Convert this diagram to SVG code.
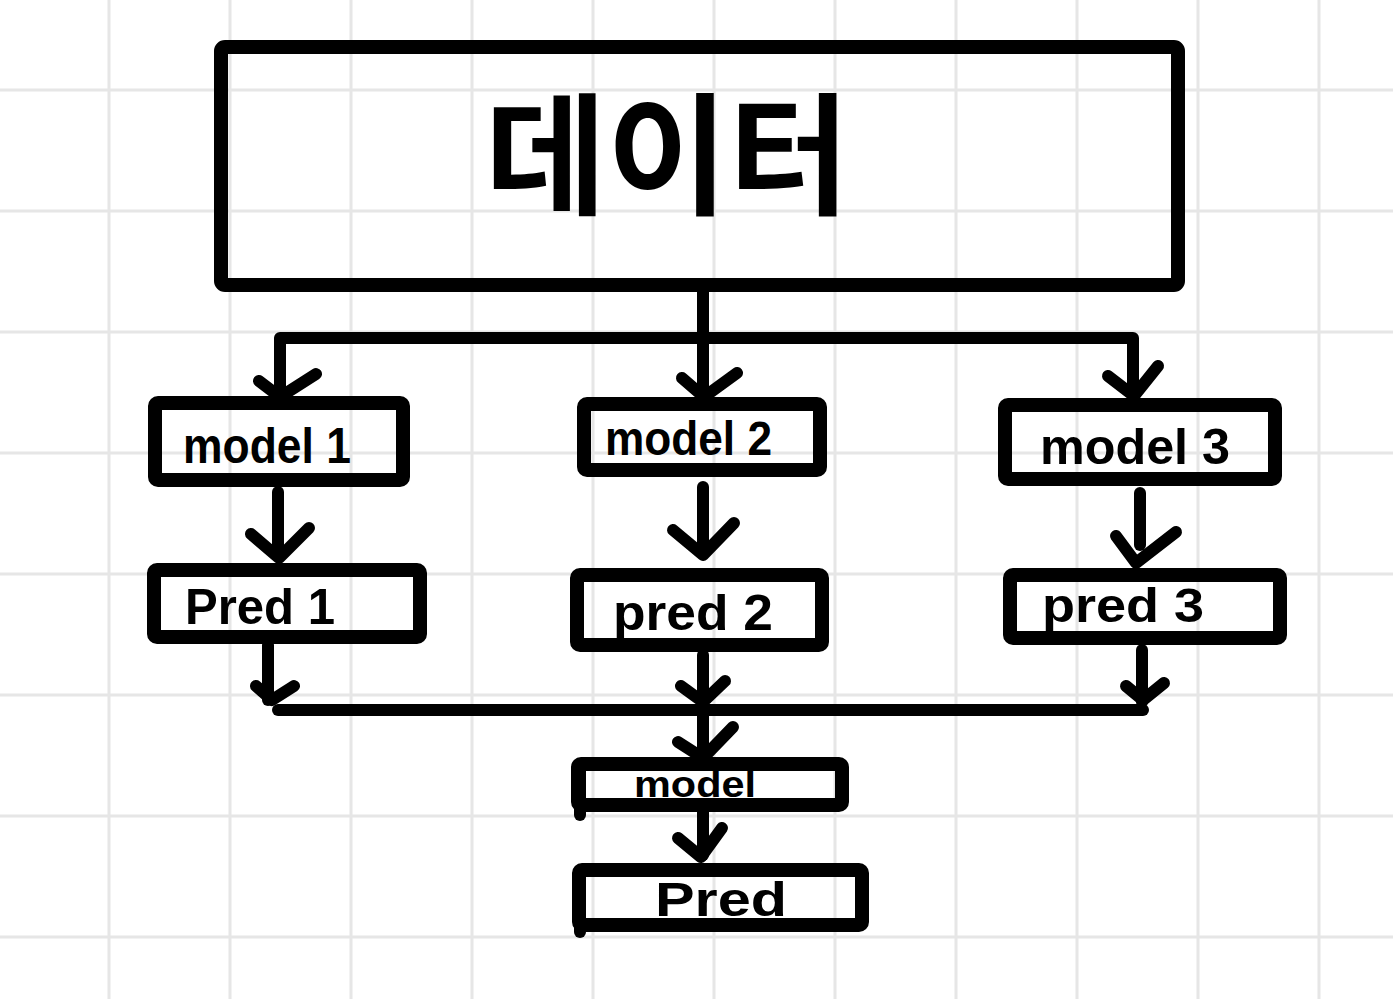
<svg xmlns="http://www.w3.org/2000/svg" width="1393" height="999" viewBox="0 0 1393 999">
<style>
.grid{stroke:#e6e6e6;stroke-width:3;fill:none}
.box{fill:none;stroke:#000;stroke-width:14;stroke-linejoin:round}
.ln{fill:none;stroke:#000;stroke-width:12;stroke-linecap:round;stroke-linejoin:round}
.lbl{font-family:"Liberation Sans","DejaVu Sans",sans-serif;font-weight:700;fill:#000}
.big{font-family:"Noto Sans CJK KR",sans-serif;font-weight:700;fill:#000}
</style>
<rect width="1393" height="999" fill="#fff"/>
<g id="grid" class="grid">
<path d="M109 0V999M230 0V999M351 0V999M472 0V999M593 0V999M714 0V999M835 0V999M956 0V999M1077 0V999M1198 0V999M1319 0V999"/>
<path d="M0 90H1393M0 211H1393M0 332H1393M0 453H1393M0 574H1393M0 695H1393M0 816H1393M0 937H1393"/>
</g>
<g id="connectors" class="ln">
<path d="M703 292V396"/>
<path d="M280 396V338H1133V394"/>
<path d="M259 381L280 397L316 374"/>
<path d="M682 378L704 397L737 373"/>
<path d="M1108 376L1134 396L1158 366"/>
<path d="M278 492V552"/>
<path d="M251 534L279 558L309 528"/>
<path d="M703 487V545"/>
<path d="M673 530L703 555L734 523"/>
<path d="M1140 493V545"/>
<path d="M1116 536L1136 563L1176 532"/>
<path d="M268 645V700"/>
<path d="M256 686L272 700L294 686"/>
<path d="M703 655V755"/>
<path d="M681 686L703 702L725 681"/>
<path d="M1142 650V702"/>
<path d="M1126 686L1143 700L1164 683"/>
<path d="M278 710H1143"/>
<path d="M678 742L703 758L733 727"/>
<path d="M703 812V855"/>
<path d="M678 838L701 857L722 828"/>
</g>
<g id="data">
<rect class="box" x="221" y="47" width="957" height="238" rx="4"/>
<text class="big" x="485" y="146" font-size="132" textLength="365" lengthAdjust="spacingAndGlyphs" dominant-baseline="central">데이터</text>
</g>
<g id="model1">
<rect class="box" x="155" y="403" width="248" height="77" rx="3"/>
<text class="lbl" x="183" y="463" font-size="50" textLength="168" lengthAdjust="spacingAndGlyphs">model 1</text>
</g>
<g id="model2">
<rect class="box" x="584" y="404" width="236" height="66" rx="3"/>
<text class="lbl" x="605" y="455" font-size="48" textLength="167" lengthAdjust="spacingAndGlyphs">model 2</text>
</g>
<g id="model3">
<rect class="box" x="1005" y="405" width="270" height="74" rx="3"/>
<text class="lbl" x="1040" y="464" font-size="50" textLength="190" lengthAdjust="spacingAndGlyphs">model 3</text>
</g>
<g id="pred1">
<rect class="box" x="154" y="570" width="266" height="67" rx="3"/>
<text class="lbl" x="185" y="624" font-size="50" textLength="150" lengthAdjust="spacingAndGlyphs">Pred 1</text>
</g>
<g id="pred2">
<rect class="box" x="577" y="575" width="245" height="70" rx="3"/>
<text class="lbl" x="613" y="630" font-size="50" textLength="160" lengthAdjust="spacingAndGlyphs">pred 2</text>
</g>
<g id="pred3">
<rect class="box" x="1010" y="575" width="270" height="63" rx="3"/>
<text class="lbl" x="1042" y="622" font-size="48" textLength="162" lengthAdjust="spacingAndGlyphs">pred 3</text>
</g>
<g id="model">
<rect class="box" x="578" y="764" width="264" height="41" rx="3"/>
<path class="ln" d="M580 770V815"/>
<text class="lbl" x="634" y="797" font-size="36" textLength="122" lengthAdjust="spacingAndGlyphs">model</text>
</g>
<g id="pred">
<rect class="box" x="579" y="870" width="283" height="55" rx="3"/>
<path class="ln" d="M580 875V932"/>
<text class="lbl" x="655" y="916" font-size="48" textLength="132" lengthAdjust="spacingAndGlyphs">Pred</text>
</g>
</svg>
